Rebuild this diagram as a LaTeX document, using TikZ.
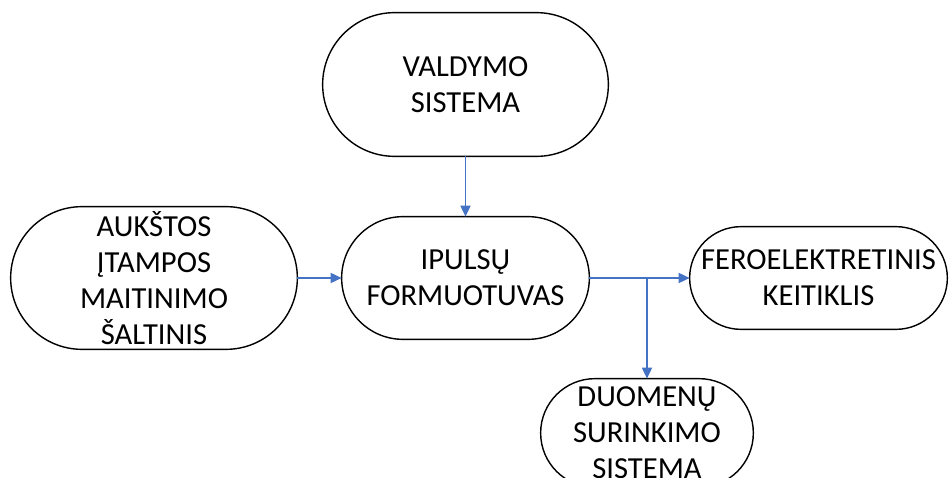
\documentclass[tikz,border=0pt]{standalone}
\usepackage{fontspec}
\setmainfont{Carlito}
\usetikzlibrary{arrows.meta}
\usetikzlibrary{calc}
\usetikzlibrary{positioning}
\definecolor{linkblue}{HTML}{4472C4}

\begin{document}
\begin{tikzpicture}[
  > = {Triangle[length=2.2mm,width=2mm]},
  block/.style = {align=center, inner sep=0pt, font=\fontsize{17.4}{20.4}\selectfont},
  link/.style = {->, draw=linkblue, line width=1pt}
  ]
	\useasboundingbox (0,0) rectangle (18.98,-9.56);

	\node[block,minimum width=5.70cm,minimum height=2.86cm] (valdymo) at (9.31,-1.69) {VALDYMO\\SISTEMA};
	\node[block,minimum width=5.72cm,minimum height=2.84cm] (saltinis) at (3.08,-5.56) {AUKŠTOS\\ĮTAMPOS\\MAITINIMO\\ŠALTINIS};
	\node[block,minimum width=4.94cm,minimum height=2.44cm] (formuotuvas) at (9.31,-5.56) {IPULSŲ\\FORMUOTUVAS};
	\node[block,minimum width=5.14cm,minimum height=2.04cm] (keitiklis) at (16.37,-5.56) {FEROELEKTRETINIS\\KEITIKLIS};
	\node[block,minimum width=4.24cm,minimum height=2.16cm] (duomenys) at (12.94,-8.66) {DUOMENŲ\\SURINKIMO\\SISTEMA};

	% terminator outlines
	\foreach \b in {valdymo,saltinis,formuotuvas,keitiklis,duomenys}
		\draw[line width=0.8pt] let \p1=(\b.south west), \p2=(\b.north east),
			\n1={0.5*(\y2-\y1)} in
			(\x1+\n1,\y1) -- (\x2-\n1,\y1)
			arc[start angle=-90,end angle=90,radius=\n1]
			-- (\x1+\n1,\y2)
			arc[start angle=90,end angle=270,radius=\n1] -- cycle;

	\coordinate (branch) at (duomenys |- formuotuvas);

	\draw[link] (valdymo) -- (formuotuvas);
	\draw[link] (saltinis) -- (formuotuvas);
	\draw[link] (formuotuvas) -- (keitiklis);
	\draw[link] (branch) -- (duomenys);

\end{tikzpicture}
\end{document}
